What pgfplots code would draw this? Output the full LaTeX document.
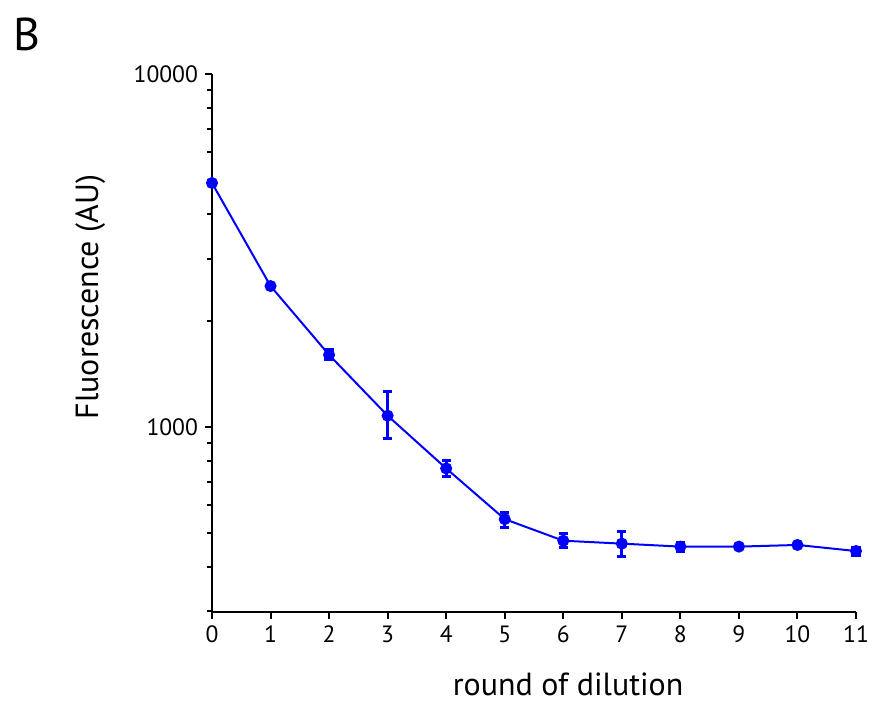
\documentclass[border=0pt]{standalone}
\usepackage{pgfplots}
\pgfplotsset{compat=1.18}
\usepackage{fontspec}
\setmainfont{PT Sans}
\definecolor{pblue}{RGB}{0,0,255}
\begin{document}
\begin{tikzpicture}
\useasboundingbox (-106bp,-44.5bp) rectangle (328.5bp,306bp);
\node[font=\fontsize{23bp}{26bp}\selectfont] at (-92.5bp,289bp) {B};
\begin{axis}[
  at={(0,0)}, anchor=south west,
  scale only axis, width=322bp, height=269bp,
  ymode=log, xmin=0, xmax=11, ymin=299, ymax=10000,
  axis x line*=bottom, axis y line*=left,
  axis line style={line width=1bp, black},
  tick align=outside, tick style={line width=1bp, black},
  major tick length=3.5bp, minor tick length=2.5bp,
  xtick={0,1,...,11},
  ytick={1000,10000}, yticklabels={1000,10000},
  minor ytick={300,400,500,600,700,800,900,2000,3000,4000,5000,6000,7000,8000,9000},
  /pgf/number format/assume math mode=true,
  ticklabel style={font=\fontsize{11.8bp}{13bp}\selectfont},
  xlabel={round of dilution}, ylabel={Fluorescence (AU)},
  label style={font=\fontsize{16bp}{19bp}\selectfont},
  xlabel style={at={(axis description cs:0.553,-0.134)}, anchor=center},
  ylabel style={at={(axis description cs:-0.189,0.5855)}, anchor=center},
  clip=false,
]
\addplot[color=pblue, line width=1bp, mark=*, mark size=2.5bp,
  mark options={solid, fill=pblue, draw=pblue},
  error bars/.cd, y dir=both, y explicit,
  error bar style={line width=1.6bp, pblue},
  error mark options={rotate=90, mark size=2.3bp, line width=1.5bp, pblue}]
table[x=x, y=y, y error plus=ep, y error minus=em] {
x y ep em
0 4910 0 0
1 2507 0 0
2 1600 53 51
3 1076 186 151
4 763 42 40
5 548 25 30
6 476 24 20
7 467 37 37
8 458 13 13
9 458 0 0
10 463 0 0
11 445 11 12
};
\end{axis}
\end{tikzpicture}
\end{document}
